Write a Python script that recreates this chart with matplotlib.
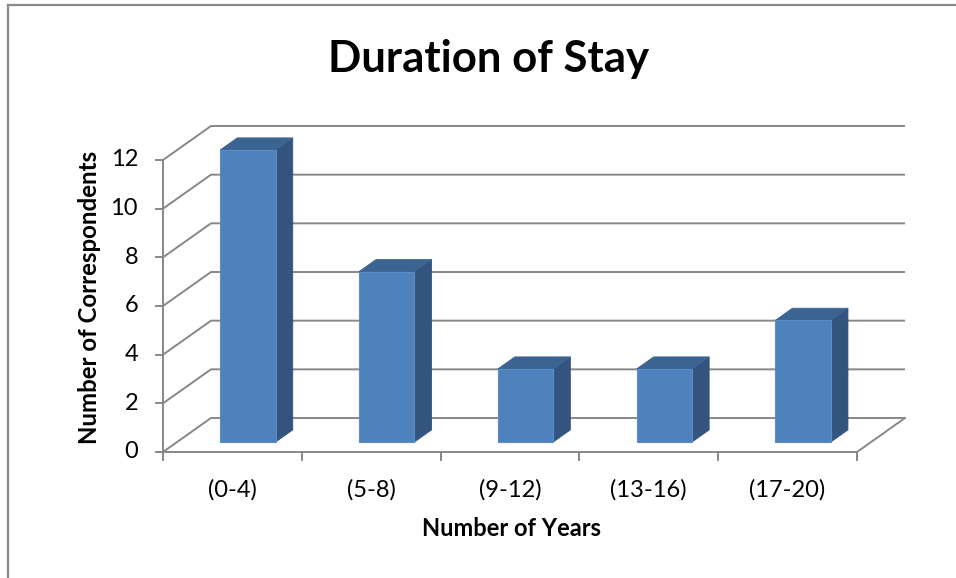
import matplotlib
matplotlib.use("Agg")
import matplotlib.pyplot as plt
from matplotlib.patches import Polygon
from matplotlib.lines import Line2D
from matplotlib.transforms import offset_copy

plt.rcParams['font.family'] = ['Lato', 'DejaVu Sans']

categories = ["(0-4)", "(5-8)", "(9-12)", "(13-16)", "(17-20)"]
counts = [12, 7, 3, 3, 5]
y_ticks = [0, 2, 4, 6, 8, 10, 12]

title = "Duration of Stay"
x_label = "Number of Years"
y_label = "Number of Correspondents"

# oblique projection: depth fraction d shifts a point right and up
DX = 0.3458   # category units at full depth
DY = 1.397    # value units at full depth
YMAX = 12


def proj(x, y, d):
    return (x + d * DX, y + d * DY)


W, H = 956, 578
fig = plt.figure(figsize=(W / 100, H / 100), dpi=100)
ax = fig.add_axes([163 / W, (H - 452) / H, 742 / W, 326 / H])
ax.set_xlim(0, len(categories) + DX)
ax.set_ylim(0, YMAX + DY)
ax.axis("off")

grid_c = "#878787"
lw = 1.4
n = len(categories)

# side wall and back wall gridlines
for v in y_ticks:
    p0 = proj(0, v, 0)
    p1 = proj(0, v, 1)
    p2 = proj(n, v, 1)
    ax.plot([p0[0], p1[0], p2[0]], [p0[1], p1[1], p2[1]], color=grid_c,
            lw=lw, clip_on=False, zorder=1, solid_capstyle="butt")

# floor front and right edges
f0 = proj(0, 0, 0)
f1 = proj(n, 0, 0)
f2 = proj(n, 0, 1)
ax.plot([f0[0], f1[0], f2[0]], [f0[1], f1[1], f2[1]], color=grid_c, lw=lw,
        clip_on=False, zorder=1)

# front vertical axis
ax.plot([0, 0], [0, YMAX], color=grid_c, lw=lw, clip_on=False, zorder=1)

# tick marks
tx = 7 / 138.8
ty = 8 / 24.33
for v in y_ticks:
    ax.plot([-tx, 0], [v, v], color=grid_c, lw=lw, clip_on=False, zorder=1)
for i in range(n + 1):
    ax.plot([i, i], [0, -ty], color=grid_c, lw=lw, clip_on=False, zorder=1)

# y tick labels
ylab_tr = offset_copy(ax.transData, fig=fig, x=-25, y=0, units="dots")
for v in y_ticks:
    ax.text(0, v, str(v), transform=ylab_tr, ha="right", va="center",
            fontsize=17, color="black", clip_on=False)

# category labels
cat_tr = offset_copy(ax.transData, fig=fig, x=0, y=-38, units="dots")
for i, lab in enumerate(categories):
    ax.text(i + 0.5, 0, lab, transform=cat_tr, ha="center", va="center",
            fontsize=17, color="black", clip_on=False)

# 3-D bars
front_c = "#4F81BD"
side_c = "#33547E"
top_c = "#3C6492"
edge_c = "#5B8CC6"
bw = 0.40
d0, d1 = 0.294, 0.65
for i, v in enumerate(counts):
    xl = i + 0.51 - bw / 2
    xr = i + 0.51 + bw / 2
    front = [proj(xl, 0, d0), proj(xr, 0, d0), proj(xr, v, d0), proj(xl, v, d0)]
    side = [proj(xr, 0, d0), proj(xr, 0, d1), proj(xr, v, d1), proj(xr, v, d0)]
    top = [proj(xl, v, d0), proj(xr, v, d0), proj(xr, v, d1), proj(xl, v, d1)]
    ax.add_patch(Polygon(side, closed=True, facecolor=side_c, edgecolor=side_c,
                         lw=0.6, zorder=3, clip_on=False))
    ax.add_patch(Polygon(top, closed=True, facecolor=top_c, edgecolor=top_c,
                         lw=0.6, zorder=3, clip_on=False))
    ax.add_patch(Polygon(front, closed=True, facecolor=front_c, edgecolor=edge_c,
                         lw=0.8, zorder=4, clip_on=False))

# titles
fig.text(489 / W, 1 - 72 / H, title, ha="center", va="baseline",
         fontsize=31.5, fontweight="bold", color="black")
fig.text(512 / W, 1 - 528 / H, x_label, ha="center", va="center",
         fontsize=17, fontweight="bold", color="black")
fig.text(90 / W, 1 - 297 / H, y_label, ha="center", va="center",
         rotation=90, fontsize=17.3, fontweight="bold", color="black")

# chart area border (left and top edges)
bc = "#8A8A8A"
fig.add_artist(Line2D([8 / W, 8 / W], [0, 1 - 5 / H], color=bc, lw=1.6,
                      transform=fig.transFigure))
fig.add_artist(Line2D([8 / W, 1], [1 - 5 / H, 1 - 5 / H], color=bc, lw=1.6,
                      transform=fig.transFigure))

fig.savefig("out.png", dpi=100, facecolor="white")
